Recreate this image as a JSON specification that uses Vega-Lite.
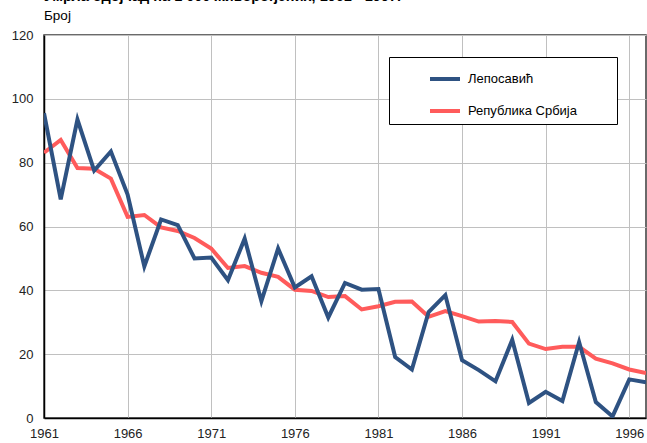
{
  "$schema": "https://vega.github.io/schema/vega-lite/v6.json",
  "width": 602,
  "height": 383,
  "autosize": {"type": "none"},
  "padding": {"left": 44, "top": 35, "right": 1, "bottom": 25},
  "background": "white",
  "title": {
    "text": "Умрла одојчад на 1 000 живорођених, 1961 - 1997.",
    "subtitle": "Број",
    "anchor": "start",
    "frame": "group",
    "font": "Liberation Sans",
    "fontSize": 14.5,
    "fontWeight": "bold",
    "color": "#000000",
    "subtitleFont": "Liberation Sans",
    "subtitleFontSize": 13.5,
    "subtitleColor": "#000000",
    "subtitlePadding": 4.5,
    "offset": 6
  },
  "config": {
    "view": {"stroke": "#3a3a3a", "strokeWidth": 1.5},
    "font": "Liberation Sans",
    "axis": {
      "labelFont": "Liberation Sans",
      "labelFontSize": 13,
      "labelColor": "#222222",
      "grid": true,
      "gridColor": "#c0c0c0",
      "domainColor": "#000000",
      "domainWidth": 1.5,
      "ticks": false,
      "title": null
    }
  },
  "data": {
    "values": [
      {"year": 1961, "series": "Република Србија", "value": 83.1},
      {"year": 1962, "series": "Република Србија", "value": 87.1},
      {"year": 1963, "series": "Република Србија", "value": 78.3},
      {"year": 1964, "series": "Република Србија", "value": 78.1},
      {"year": 1965, "series": "Република Србија", "value": 75.0},
      {"year": 1966, "series": "Република Србија", "value": 63.0},
      {"year": 1967, "series": "Република Србија", "value": 63.6},
      {"year": 1968, "series": "Република Србија", "value": 59.7},
      {"year": 1969, "series": "Република Србија", "value": 58.6},
      {"year": 1970, "series": "Република Србија", "value": 56.4},
      {"year": 1971, "series": "Република Србија", "value": 53.1},
      {"year": 1972, "series": "Република Србија", "value": 47.0},
      {"year": 1973, "series": "Република Србија", "value": 47.6},
      {"year": 1974, "series": "Република Србија", "value": 45.5},
      {"year": 1975, "series": "Република Србија", "value": 44.2},
      {"year": 1976, "series": "Република Србија", "value": 40.2},
      {"year": 1977, "series": "Република Србија", "value": 39.8},
      {"year": 1978, "series": "Република Србија", "value": 37.9},
      {"year": 1979, "series": "Република Србија", "value": 38.2},
      {"year": 1980, "series": "Република Србија", "value": 34.0},
      {"year": 1981, "series": "Република Србија", "value": 35.0},
      {"year": 1982, "series": "Република Србија", "value": 36.4},
      {"year": 1983, "series": "Република Србија", "value": 36.5},
      {"year": 1984, "series": "Република Србија", "value": 31.7},
      {"year": 1985, "series": "Република Србија", "value": 33.5},
      {"year": 1986, "series": "Република Србија", "value": 31.9},
      {"year": 1987, "series": "Република Србија", "value": 30.2},
      {"year": 1988, "series": "Република Србија", "value": 30.4},
      {"year": 1989, "series": "Република Србија", "value": 30.1},
      {"year": 1990, "series": "Република Србија", "value": 23.3},
      {"year": 1991, "series": "Република Србија", "value": 21.6},
      {"year": 1992, "series": "Република Србија", "value": 22.3},
      {"year": 1993, "series": "Република Србија", "value": 22.3},
      {"year": 1994, "series": "Република Србија", "value": 18.6},
      {"year": 1995, "series": "Република Србија", "value": 17.1},
      {"year": 1996, "series": "Република Србија", "value": 15.2},
      {"year": 1997, "series": "Република Србија", "value": 14.1},
      {"year": 1961, "series": "Лепосавић", "value": 95.5},
      {"year": 1962, "series": "Лепосавић", "value": 68.5},
      {"year": 1963, "series": "Лепосавић", "value": 93.5},
      {"year": 1964, "series": "Лепосавић", "value": 77.5},
      {"year": 1965, "series": "Лепосавић", "value": 83.5},
      {"year": 1966, "series": "Лепосавић", "value": 70.0},
      {"year": 1967, "series": "Лепосавић", "value": 47.5},
      {"year": 1968, "series": "Лепосавић", "value": 62.2},
      {"year": 1969, "series": "Лепосавић", "value": 60.4},
      {"year": 1970, "series": "Лепосавић", "value": 50.0},
      {"year": 1971, "series": "Лепосавић", "value": 50.3},
      {"year": 1972, "series": "Лепосавић", "value": 43.2},
      {"year": 1973, "series": "Лепосавић", "value": 56.2},
      {"year": 1974, "series": "Лепосавић", "value": 36.6},
      {"year": 1975, "series": "Лепосавић", "value": 53.1},
      {"year": 1976, "series": "Лепосавић", "value": 40.9},
      {"year": 1977, "series": "Лепосавић", "value": 44.4},
      {"year": 1978, "series": "Лепосавић", "value": 31.5},
      {"year": 1979, "series": "Лепосавић", "value": 42.3},
      {"year": 1980, "series": "Лепосавић", "value": 40.2},
      {"year": 1981, "series": "Лепосавић", "value": 40.4},
      {"year": 1982, "series": "Лепосавић", "value": 19.1},
      {"year": 1983, "series": "Лепосавић", "value": 15.2},
      {"year": 1984, "series": "Лепосавић", "value": 33.2},
      {"year": 1985, "series": "Лепосавић", "value": 38.5},
      {"year": 1986, "series": "Лепосавић", "value": 18.1},
      {"year": 1987, "series": "Лепосавић", "value": 15.0},
      {"year": 1988, "series": "Лепосавић", "value": 11.5},
      {"year": 1989, "series": "Лепосавић", "value": 24.5},
      {"year": 1990, "series": "Лепосавић", "value": 4.7},
      {"year": 1991, "series": "Лепосавић", "value": 8.2},
      {"year": 1992, "series": "Лепосавић", "value": 5.3},
      {"year": 1993, "series": "Лепосавић", "value": 23.8},
      {"year": 1994, "series": "Лепосавић", "value": 5.0},
      {"year": 1995, "series": "Лепосавић", "value": 0.5},
      {"year": 1996, "series": "Лепосавић", "value": 12.1},
      {"year": 1997, "series": "Лепосавић", "value": 11.2}
    ]
  },
  "mark": {"type": "line", "strokeWidth": 4, "strokeJoin": "miter", "clip": true},
  "encoding": {
    "x": {
      "field": "year",
      "type": "quantitative",
      "scale": {"domain": [1961, 1997], "nice": false, "zero": false},
      "axis": {
        "values": [1961, 1966, 1971, 1976, 1981, 1986, 1991, 1996],
        "format": "d",
        "labelPadding": 9,
        "labelFlush": false
      }
    },
    "y": {
      "field": "value",
      "type": "quantitative",
      "scale": {"domain": [0, 120], "nice": false},
      "axis": {
        "values": [0, 20, 40, 60, 80, 100, 120],
        "labelPadding": 11
      }
    },
    "color": {
      "field": "series",
      "type": "nominal",
      "scale": {
        "domain": ["Лепосавић", "Република Србија"],
        "range": ["#2E5282", "#FF5B5B"]
      },
      "legend": {
        "orient": "none",
        "legendX": 345,
        "legendY": 22,
        "title": "\u00a0",
        "titleOrient": "right",
        "titlePadding": 34.5,
        "titleFontSize": 13,
        "direction": "vertical",
        "fillColor": "#ffffff",
        "strokeColor": "#000000",
        "padding": 5,
        "symbolType": "stroke",
        "symbolSize": 900,
        "symbolStrokeWidth": 4,
        "symbolOffset": 34,
        "labelOffset": 6,
        "labelFont": "Liberation Sans",
        "labelFontSize": 13,
        "labelColor": "#000000",
        "rowPadding": 7
      }
    }
  }
}
